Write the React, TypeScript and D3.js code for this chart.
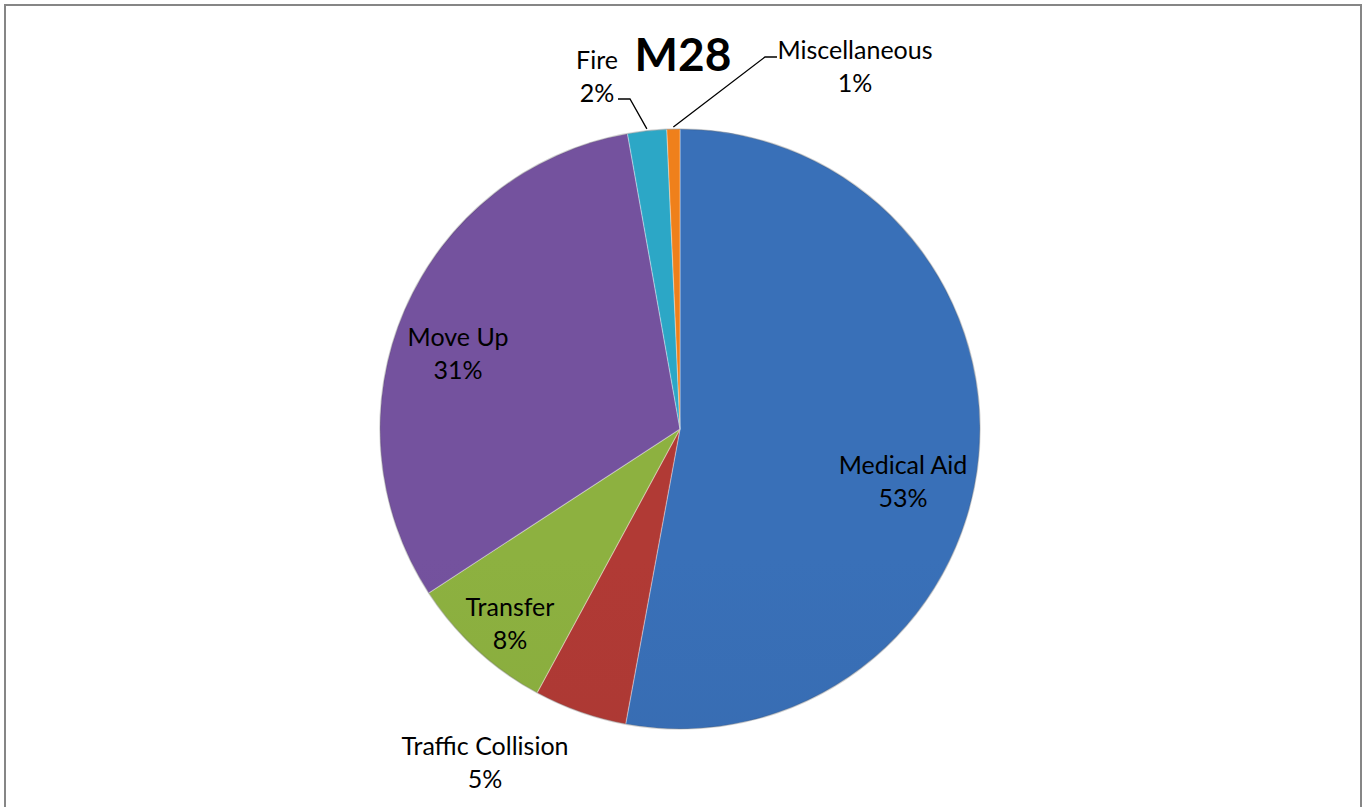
import React from "react";
import * as d3 from "d3";

const categories = ["Medical Aid", "Traffic Collision", "Transfer", "Move Up", "Fire", "Miscellaneous"];
const values = [52.9, 5.0, 7.9, 31.4, 2.1, 0.7];
const colors = ["#376bb0", "#aa3833", "#87aa3d", "#6f4f97", "#2aa0be", "#e57b1a"];
const title = "M28";

const W = 1363, H = 807;
const cx = 680, cy = 429, R = 300;

// label layout: [x, y of first line baseline]
const labelLayout = [
  { x: 903, y: 474 },
  { x: 485, y: 755 },
  { x: 510, y: 616 },
  { x: 458, y: 346 },
  { x: 597, y: 69 },
  { x: 855, y: 59 },
];

export default function App() {
  const pie = d3.pie<number>().sort(null).value((d) => d);
  const arcs = pie(values);
  const arc = d3.arc<d3.PieArcDatum<number>>().innerRadius(0).outerRadius(R);
  const total = d3.sum(values);
  const font = "Lato, 'Open Sans', sans-serif";

  const fireArc = arcs[4];
  const miscArc = arcs[5];
  const fireMid = (fireArc.startAngle + fireArc.endAngle) / 2;
  const miscMid = (miscArc.startAngle + miscArc.endAngle) / 2;
  const edge = (a: number, r: number) => [cx + r * Math.sin(a), cy - r * Math.cos(a)];
  const fe = edge(fireMid, R + 2);
  const me = edge(miscMid, R + 2);

  return (
    <svg width={W} height={H} style={{ position: "absolute", left: 0, top: 0 }}>
      <defs>
        {colors.map((c, i) => (
          <linearGradient key={i} id={`g${i}`} gradientUnits="userSpaceOnUse" x1={0} y1={cy - R} x2={0} y2={cy + R}>
            <stop offset="0%" stopColor={d3.color(c)!.brighter(0.12).toString()} />
            <stop offset="50%" stopColor={c} />
            <stop offset="100%" stopColor={d3.color(c)!.darker(0.28).toString()} />
          </linearGradient>
        ))}
      </defs>
      <rect x={0} y={0} width={W} height={H} fill="#fff" />
      <rect x={5} y={5} width={1356} height={H + 10} fill="none" stroke="#868686" strokeWidth={2} />
      <g transform={`translate(${cx},${cy})`}>
        {arcs.map((a, i) => (
          <path key={i} d={arc(a)!} fill={`url(#g${i})`} stroke="#ffffff" strokeOpacity={0.3} strokeWidth={1.2} />
        ))}
        <circle r={R} fill="none" stroke="#000" strokeOpacity={0.18} strokeWidth={1.5} />
      </g>
      <text x={683} y={71} textAnchor="middle" fontFamily={font} fontWeight="bold" fontSize={46} fill="#000">{title}</text>
      {/* leader lines */}
      <polyline points={`618,99 630,99 ${fe[0]},${fe[1]}`} fill="none" stroke="#000" strokeWidth={1.3} />
      <polyline points={`${me[0]},${me[1]} 765,57 777,57`} fill="none" stroke="#000" strokeWidth={1.3} />
      {arcs.map((a, i) => {
        const p = labelLayout[i];
        const pct = Math.round((values[i] / total) * 100);
        return (
          <text key={i} x={p.x} y={p.y} textAnchor="middle" fontFamily={font} fontSize={25} fill="#000">
            <tspan x={p.x}>{categories[i]}</tspan>
            <tspan x={p.x} dy={33}>{`${Math.max(1, pct)}%`}</tspan>
          </text>
        );
      })}
    </svg>
  );
}
